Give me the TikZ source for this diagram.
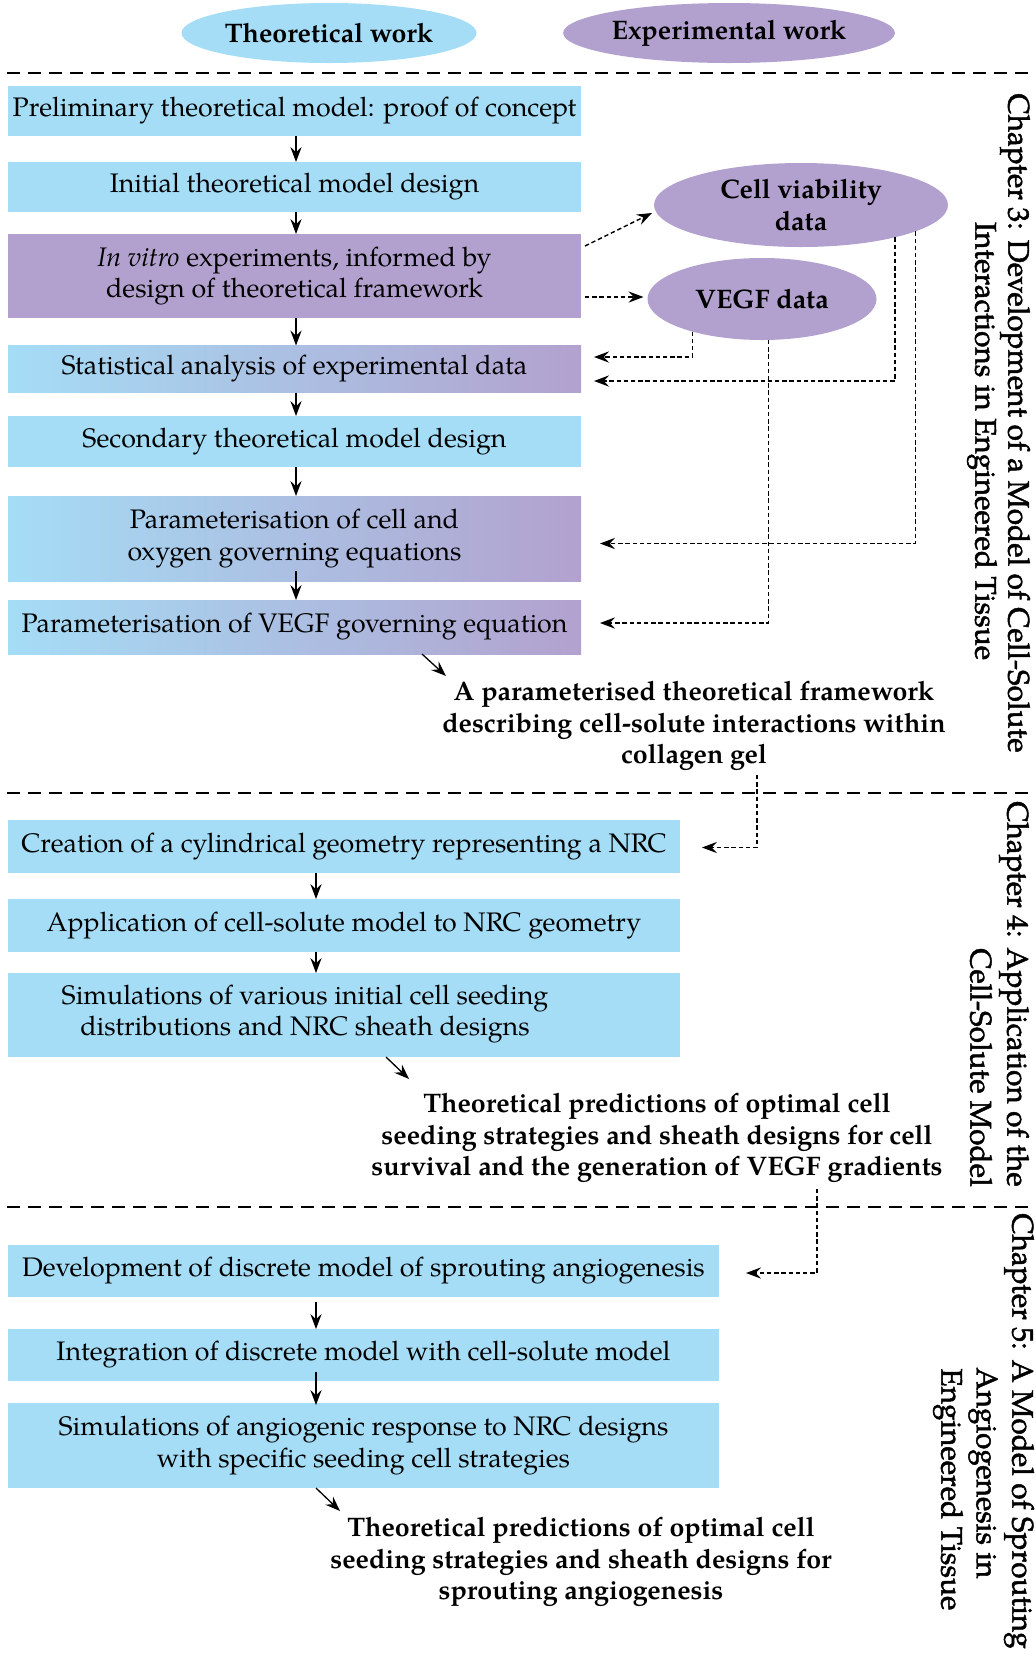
\documentclass[tikz,border=0pt]{standalone}
\usepackage{fontspec}
\setmainfont{TeX Gyre Pagella}
\newfontfamily\chapfont{TeX Gyre Pagella}[FakeBold=1.6]
\usetikzlibrary{arrows.meta,calc,shapes.geometric}
\definecolor{blueC}{RGB}{165,221,246}
\definecolor{purpleC}{RGB}{178,161,206}
\newcommand{\bodyfont}{\fontsize{13.4}{15.7}\selectfont}
\begin{document}
\begin{tikzpicture}[x=0.5pt,y=-0.5pt,font=\bodyfont,
  box/.style={draw=none,inner sep=0,outer sep=0,align=center},
  bbox/.style={box,fill=blueC},
  pbox/.style={box,fill=purpleC},
  gbox/.style={box,left color=blueC,right color=purpleC},
  wA/.style={minimum width=286.5pt},
  wB/.style={minimum width=336pt},
  wC/.style={minimum width=355.5pt},
  oval/.style={ellipse,draw=none,inner sep=0,outer sep=0,align=center,font=\bodyfont\bfseries},
  arr/.style={-{Stealth[length=7.5pt,width=5.6pt,inset=2.6pt]},line width=0.65pt},
  dotarr/.style={arr,line width=0.7pt,dash pattern=on 2.2pt off 1.4pt},
  sepline/.style={line width=0.7pt,dash pattern=on 6.5pt off 4pt},
  concl/.style={align=center,inner sep=0,font=\bodyfont\bfseries},
  chap/.style={rotate=-90,inner sep=0,font=\chapfont\fontsize{14.9}{18}\selectfont}]
\useasboundingbox (0,0) rectangle (1035,1661);

% legend
\node[oval,fill=blueC,minimum width=147.5pt,minimum height=30pt] (E1) at (329,33) {Theoretical work};
\node[oval,fill=purpleC,minimum width=147.5pt,minimum height=30pt] (E2) at (729,33) {Experimental work};

% separators
\coordinate (s1a) at (7,73);  \coordinate (s1b) at (1035,73);
\coordinate (s2a) at (7,793); \coordinate (s2b) at (1035,793);
\coordinate (s3a) at (7,1207);\coordinate (s3b) at (1035,1207);
\draw[sepline] (s1a) -- (s1b);
\draw[sepline] (s2a) -- (s2b);
\draw[sepline] (s3a) -- (s3b);

% chapter 3
\node[bbox,wA,minimum height=25pt] (B1) at (294.5,111) {Preliminary theoretical model: proof of concept};
\node[bbox,wA,minimum height=25pt] (B2) at (294.5,187) {Initial theoretical model design};
\node[pbox,wA,minimum height=42pt] (B3) at (294.5,276) {\textit{In vitro} experiments, informed by\\design of theoretical framework};
\node[gbox,wA,minimum height=23.5pt] (B4) at (294.5,369) {Statistical analysis of experimental data};
\node[bbox,wA,minimum height=25.5pt] (B5) at (294.5,441.5) {Secondary theoretical model design};
\node[gbox,wA,minimum height=42.5pt] (B6) at (294.5,538.5) {Parameterisation of cell and\\oxygen governing equations};
\node[gbox,wA,minimum height=27pt] (B7) at (294.5,627) {Parameterisation of VEGF governing equation};

\node[oval,fill=purpleC,minimum width=147pt,minimum height=42pt,inner ysep=-4pt] (CV) at (801,205) {Cell viability\\data};
\node[oval,fill=purpleC,minimum width=114.5pt,minimum height=41pt] (VG) at (762,299) {VEGF data};

\node[concl] (C1) at (694,726) {A parameterised theoretical framework\\describing cell-solute interactions within\\collagen gel};
\coordinate (d1) at (446,676);

\draw[arr] ($(B1.south)+(1.5,0)$) -- ($(B2.north)+(1.5,0)$);
\draw[arr] ($(B2.south)+(1.5,0)$) -- ($(B3.north)+(1.5,0)$);
\draw[arr] ($(B3.south)+(1.5,0)$) -- ($(B4.north)+(1.5,0)$);
\draw[arr] ($(B4.south)+(1.5,0)$) -- ($(B5.north)+(1.5,0)$);
\draw[arr] ($(B5.south)+(1.5,0)$) -- ($(B6.north)+(1.5,0)$);
\draw[arr] ($(B6.south)+(1.5,-10)$) -- ($(B7.north)+(1.5,0)$);

\draw[dotarr] ($(B3.north east)+(4,12)$) -- ($(CV.west)+(-2,8)$);
\draw[dotarr] ($(B3.east)+(4,21)$) -- ($(VG.west)+(-4,-2)$);
\draw[dotarr] (VG.205.9) |- ($(B4.east)+(13,-12)$);
\draw[dotarr] (CV.341.4) |- ($(B4.east)+(13,12)$);
\draw[dotarr] (CV.347.2) |- ($(B6.east)+(19,5)$);
\draw[dotarr] (VG.279.7) |- ($(B7.east)+(19,-4)$);

\draw[arr] ($(B7.south)+(127.5,0)$) -- (d1);

% chapter 4
\node[bbox,wB,minimum height=26.5pt] (B8) at (344,846.5) {Creation of a cylindrical geometry representing a NRC};
\node[bbox,wB,minimum height=26.5pt] (B9) at (344,925.5) {Application of cell-solute model to NRC geometry};
\node[bbox,wB,minimum height=42pt] (B10) at (344,1015) {};
\node[align=center,inner sep=0] (B10t) at (305,1014) {Simulations of various initial cell seeding\\distributions and NRC sheath designs};

\node[concl] (C2) at (657,1138) {Theoretical predictions of optimal cell\\seeding strategies and sheath designs for cell\\survival and the generation of VEGF gradients};
\coordinate (d2) at (409,1079);

\draw[arr] ($(B8.south)+(-28,0)$) -- ($(B9.north)+(-28,0)$);
\draw[arr] ($(B9.south)+(-28,0)$) -- ($(B10.north)+(-28,0)$);
\draw[dotarr] ($(C1.south)+(63,4)$) |- ($(B8.east)+(22,1)$);
\draw[arr] ($(B10.south)+(42,0)$) -- (d2);

% chapter 5
\node[bbox,wC,minimum height=26pt] (B11) at (363.5,1271) {Development of discrete model of sprouting angiogenesis};
\node[bbox,wC,minimum height=26pt] (B12) at (363.5,1355) {Integration of discrete model with cell-solute model};
\node[bbox,wC,minimum height=42.5pt] (B13) at (363.5,1445.5) {Simulations of angiogenic response to NRC designs\\with specific seeding cell strategies};

\node[concl] (C3) at (581,1562) {Theoretical predictions of optimal cell\\seeding strategies and sheath designs for\\sprouting angiogenesis};
\coordinate (d3) at (340,1511);

\draw[arr] ($(B11.south)+(-47.5,5)$) -- ($(B12.north)+(-47.5,0)$);
\draw[arr] ($(B12.south)+(-47.5,-9)$) -- ($(B13.north)+(-47.5,2)$);
\draw[dotarr] ($(C2.south)+(160,6)$) |- ($(B11.east)+(27,2)$);
\draw[arr] ($(B13.south)+(-47.5,0)$) -- (d3);

% chapter labels
\node[chap] (L3a) at (1015,423) {Chapter 3: Development of a Model of Cell-Solute};
\node[chap] (L3b) at (982,441) {Interactions in Engineered Tissue};
\node[chap,anchor=east] (L4a) at (1014,1187) {Chapter 4: Application of the};
\node[chap,anchor=east] (L4b) at (981,1187) {Cell-Solute Model};
\node[chap,anchor=west] (L5a) at (1019,1213) {Chapter 5: A Model of Sprouting};
\node[chap,anchor=west] (L5b) at (983,1367) {Angiogenesis in};
\node[chap,anchor=west] (L5c) at (948,1368) {Engineered Tissue};
\end{tikzpicture}
\end{document}
